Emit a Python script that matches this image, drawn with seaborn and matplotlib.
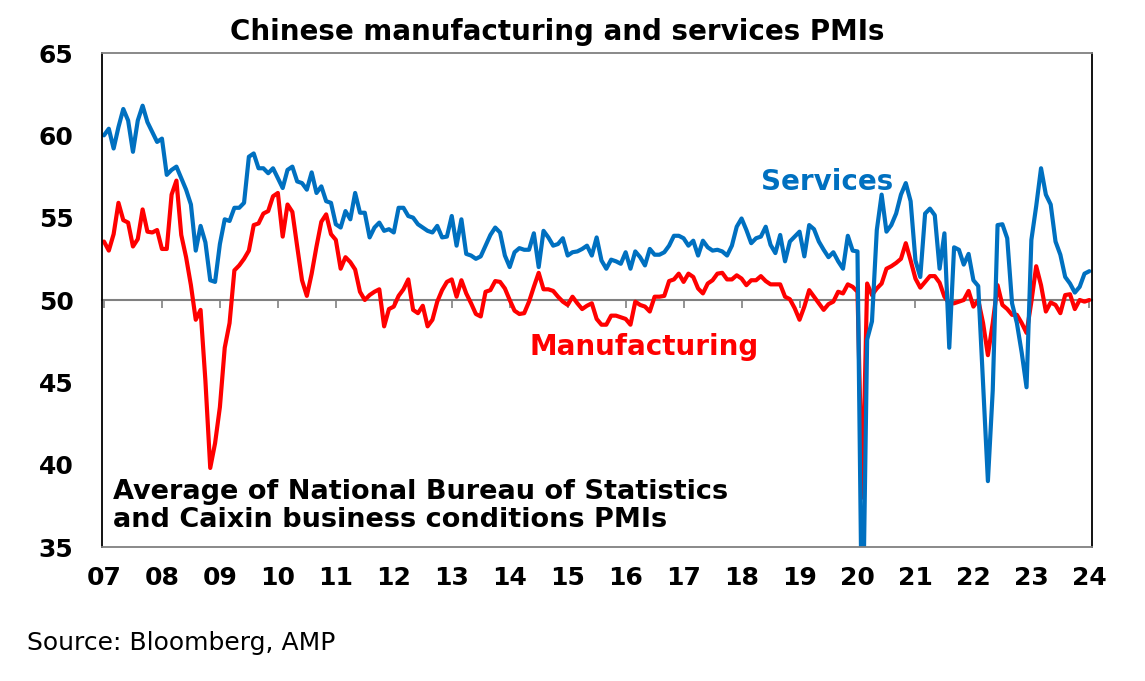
import numpy as np
import pandas as pd
import matplotlib
matplotlib.use("Agg")
import matplotlib.pyplot as plt
import seaborn as sns

# ---- data (monthly, Jan 2007 - Jan 2024) ----
services = [
    60.0, 60.4, 59.2, 60.5, 61.6, 60.9, 59.0, 60.9, 61.8, 60.8, 60.2, 59.6,   # 2007
    59.8, 57.6, 57.9, 58.1, 57.4, 56.7, 55.8, 53.0, 54.5, 53.5, 51.2, 51.1,   # 2008
    53.4, 54.9, 54.8, 55.6, 55.6, 55.9, 58.7, 58.9, 58.0, 58.0, 57.7, 58.0,   # 2009
    57.4, 56.8, 57.9, 58.1, 57.2, 57.1, 56.7, 57.75, 56.5, 56.9, 56.0, 55.9,  # 2010
    54.6, 54.4, 55.4, 54.9, 56.5, 55.3, 55.3, 53.8, 54.4, 54.7, 54.2, 54.3,   # 2011
    54.1, 55.6, 55.6, 55.1, 55.0, 54.6, 54.4, 54.2, 54.1, 54.5, 53.8, 53.85,  # 2012
    55.1, 53.3, 54.9, 52.8, 52.7, 52.5, 52.65, 53.3, 53.95, 54.4, 54.1, 52.7, # 2013
    52.0, 52.9, 53.15, 53.05, 53.05, 54.05, 52.0, 54.2, 53.8, 53.3, 53.4, 53.75,  # 2014
    52.7, 52.9, 52.95, 53.1, 53.3, 52.7, 53.8, 52.4, 51.9, 52.45, 52.35, 52.2,     # 2015
    52.9, 51.9, 52.95, 52.6, 52.1, 53.1, 52.75, 52.75, 52.9, 53.3, 53.9, 53.9,     # 2016
    53.75, 53.3, 53.6, 52.7, 53.6, 53.2, 53.0, 53.05, 52.95, 52.7, 53.3, 54.45,    # 2017
    54.95, 54.25, 53.45, 53.75, 53.85, 54.45, 53.35, 52.85, 53.95, 52.35, 53.55, 53.85,  # 2018
    54.15, 52.65, 54.55, 54.3, 53.55, 53.05, 52.6, 52.9, 52.35, 51.9, 53.9, 53.0,  # 2019
    52.95, 28.0, 47.6, 48.7, 54.25, 56.4, 54.15, 54.55, 55.25, 56.4, 57.1, 56.0,   # 2020
    52.4, 51.4, 55.25, 55.55, 55.15, 51.9, 54.05, 47.1, 53.2, 53.05, 52.15, 52.8,  # 2021
    51.2, 50.85, 44.9, 39.0, 44.5, 54.55, 54.6, 53.75, 49.8, 48.6, 46.8, 44.7,     # 2022
    53.65, 55.7, 58.0, 56.4, 55.8, 53.55, 52.75, 51.4, 51.0, 50.45, 50.8, 51.6,    # 2023
    51.75,                                                                          # 2024
]
manufacturing = [
    53.55, 53.0, 54.0, 55.9, 54.85, 54.7, 53.25, 53.7, 55.5, 54.15, 54.1, 54.25,  # 2007
    53.1, 53.1, 56.4, 57.25, 53.95, 52.6, 50.9, 48.8, 49.4, 45.1, 39.8, 41.3,     # 2008
    43.5, 47.1, 48.6, 51.8, 52.1, 52.5, 53.0, 54.55, 54.65, 55.25, 55.4, 56.3,    # 2009
    56.5, 53.85, 55.8, 55.35, 53.25, 51.2, 50.25, 51.6, 53.25, 54.75, 55.2, 54.0, # 2010
    53.65, 51.9, 52.6, 52.3, 51.85, 50.5, 50.0, 50.3, 50.5, 50.65, 48.4, 49.45,   # 2011
    49.6, 50.25, 50.65, 51.25, 49.4, 49.2, 49.65, 48.4, 48.8, 49.9, 50.6, 51.1,   # 2012
    51.25, 50.2, 51.2, 50.4, 49.8, 49.15, 49.0, 50.5, 50.6, 51.15, 51.1, 50.7,    # 2013
    50.0, 49.35, 49.15, 49.2, 49.9, 50.8, 51.65, 50.65, 50.65, 50.55, 50.2, 49.9, # 2014
    49.7, 50.2, 49.8, 49.45, 49.65, 49.8, 48.85, 48.5, 48.5, 49.05, 49.05, 48.95, # 2015
    48.85, 48.5, 49.9, 49.7, 49.6, 49.3, 50.2, 50.2, 50.25, 51.15, 51.25, 51.6,   # 2016
    51.1, 51.6, 51.4, 50.7, 50.4, 51.0, 51.2, 51.6, 51.65, 51.25, 51.25, 51.5,    # 2017
    51.3, 50.9, 51.2, 51.2, 51.45, 51.15, 50.95, 50.95, 50.95, 50.2, 50.05, 49.5, # 2018
    48.8, 49.6, 50.6, 50.2, 49.8, 49.4, 49.75, 49.9, 50.5, 50.4, 50.95, 50.8,     # 2019
    50.5, 38.0, 51.0, 50.3, 50.7, 51.0, 51.9, 52.05, 52.25, 52.5, 53.45, 52.4,    # 2020
    51.3, 50.75, 51.1, 51.45, 51.45, 51.05, 50.2, 49.8, 49.8, 49.9, 50.0, 50.55,  # 2021
    49.6, 50.0, 48.6, 46.65, 48.6, 50.9, 49.7, 49.45, 49.1, 49.1, 48.6, 48.0,     # 2022
    49.9, 52.05, 50.9, 49.3, 49.85, 49.7, 49.2, 50.3, 50.35, 49.45, 50.0, 49.9,   # 2023
    50.0,                                                                          # 2024
]
series_names = ["Manufacturing", "Services"]
series_colors = {"Manufacturing": "#FF0000", "Services": "#0070C0"}
year_ticks = list(range(2007, 2025))
year_labels = [f"{y % 100:02d}" for y in year_ticks]
y_ticks = [35, 40, 45, 50, 55, 60, 65]

title = "Chinese manufacturing and services PMIs"
note = "Average of National Bureau of Statistics\nand Caixin business conditions PMIs"
source = "Source: Bloomberg, AMP"

# ---- build frame ----
n = len(services)
dates = pd.date_range("2007-01-01", periods=n, freq="MS")
xpos = np.asarray(dates.year + (dates.month - 1) / 12.0, dtype=float)
df = pd.DataFrame({
    "x": np.concatenate([xpos, xpos]),
    "value": manufacturing + services,
    "series": ["Manufacturing"] * n + ["Services"] * n,
})

sns.set_theme(style="white")
plt.rcParams["font.family"] = ["DejaVu Sans"]

fig = plt.figure(figsize=(11.45, 6.81), dpi=100)
ax = fig.add_axes([102 / 1145, 1 - 547 / 681, 990 / 1145, 494 / 681])

sns.lineplot(data=df, x="x", y="value", hue="series", hue_order=series_names,
             palette=series_colors, linewidth=3.0, legend=False,
             estimator=None, ax=ax)

ax.set_xlim(2006.966, 2024.046)
ax.set_ylim(35, 65)
ax.set_xlabel("")
ax.set_ylabel("")
ax.set_xticks(year_ticks)
ax.set_xticklabels(year_labels, fontsize=18, fontweight="bold")
ax.set_yticks(y_ticks)
ax.set_yticklabels([str(v) for v in y_ticks], fontsize=18, fontweight="bold")
ax.tick_params(axis="x", length=0, pad=13.5, colors="black")
ax.tick_params(axis="y", length=6.5, width=1.2, direction="out", pad=14,
               color="#404040", labelcolor="black")

for side, col in [("left", "black"), ("right", "black"),
                  ("top", "#808080"), ("bottom", "#808080")]:
    ax.spines[side].set_visible(True)
    ax.spines[side].set_color(col)
    ax.spines[side].set_linewidth(1.3)

# zero-line style axis at 50 with hanging year ticks
sec = ax.secondary_xaxis((50 - 35) / 30)
sec.set_alignment("bottom")
sec.set_xticks(year_ticks)
sec.tick_params(axis="x", length=6, width=1.2, color="#808080",
                direction="out", labelbottom=False, labeltop=False)
for s in sec.spines.values():
    s.set_color("#808080")
    s.set_linewidth(1.5)

fig.text(557 / 1145, 1 - 32 / 681, title, ha="center", va="center",
         fontsize=20, fontweight="bold", color="black")
fig.text(827 / 1145, 1 - 182 / 681, "Services", ha="center", va="center",
         fontsize=20, fontweight="bold", color="#0070C0")
fig.text(644 / 1145, 1 - 347 / 681, "Manufacturing", ha="center", va="center",
         fontsize=20, fontweight="bold", color="#FF0000")
fig.text(113 / 1145, 1 - 506 / 681, note, ha="left", va="center",
         fontsize=19.5, fontweight="bold", color="black", linespacing=1.1)
fig.text(27 / 1145, 1 - 643 / 681, source, ha="left", va="center",
         fontsize=18, fontweight="normal", color="black")

fig.savefig("out.png", dpi=100)
